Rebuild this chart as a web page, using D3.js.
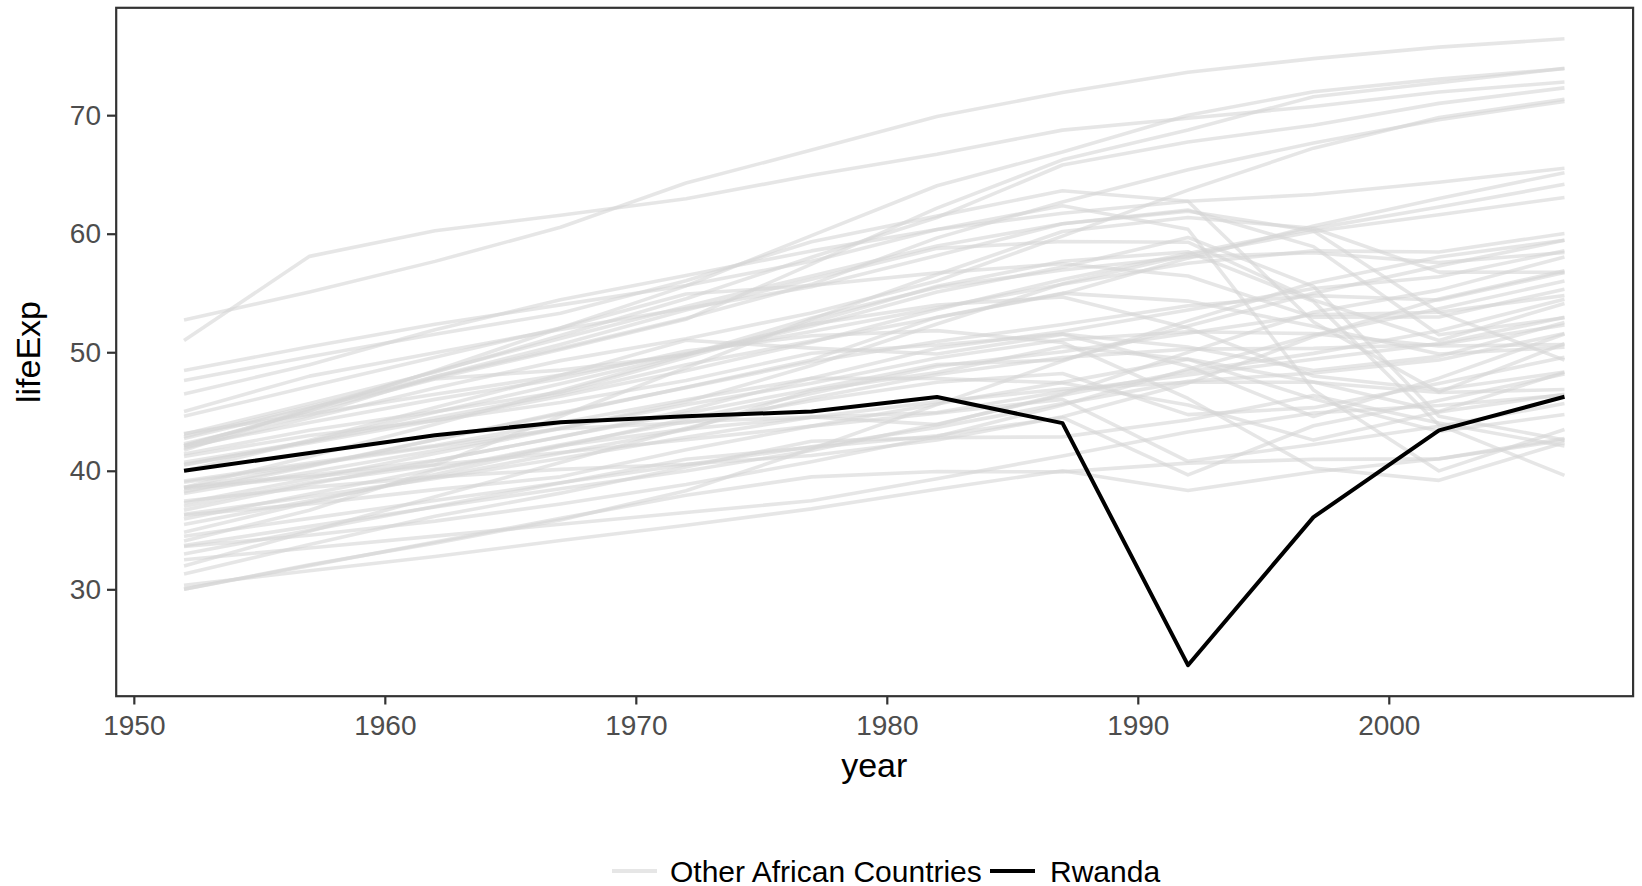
<!DOCTYPE html>
<html>
<head>
<meta charset="utf-8">
<script src="https://cdn.jsdelivr.net/npm/d3@7"></script>
<style>
  body { margin: 0; background: #fff; }
  text { font-family: "Liberation Sans", Arial, sans-serif; }
</style>
</head>
<body>
<script>
const years = [1952, 1957, 1962, 1967, 1972, 1977, 1982, 1987, 1992, 1997, 2002, 2007];

const countries = [
  "Algeria", "Angola", "Benin", "Botswana", "Burkina Faso", "Burundi", "Cameroon",
  "Central African Republic", "Chad", "Comoros", "Congo, Dem. Rep.", "Congo, Rep.",
  "Cote d'Ivoire", "Djibouti", "Egypt", "Equatorial Guinea", "Eritrea", "Ethiopia",
  "Gabon", "Gambia", "Ghana", "Guinea", "Guinea-Bissau", "Kenya", "Lesotho", "Liberia",
  "Libya", "Madagascar", "Malawi", "Mali", "Mauritania", "Mauritius", "Morocco",
  "Mozambique", "Namibia", "Niger", "Nigeria", "Reunion", "Rwanda",
  "Sao Tome and Principe", "Senegal", "Sierra Leone", "Somalia", "South Africa", "Sudan",
  "Swaziland", "Tanzania", "Togo", "Tunisia", "Uganda", "Zambia", "Zimbabwe"
];

const lifeExp = [
  [43.077, 45.685, 48.303, 51.407, 54.518, 58.014, 61.368, 65.799, 67.744, 69.152, 70.994, 72.301],
  [30.015, 31.999, 34.000, 35.985, 37.928, 39.483, 39.942, 39.906, 40.647, 40.963, 41.003, 42.731],
  [38.223, 40.358, 42.618, 44.885, 47.014, 49.190, 50.904, 52.337, 53.919, 54.777, 54.406, 56.728],
  [47.622, 49.618, 51.520, 53.298, 56.024, 59.319, 61.484, 63.622, 62.745, 52.556, 46.634, 50.728],
  [31.975, 34.906, 37.814, 40.697, 43.591, 46.137, 48.122, 49.557, 50.260, 50.324, 50.650, 52.295],
  [39.031, 40.533, 42.045, 43.548, 44.057, 45.910, 47.471, 48.211, 44.736, 45.326, 47.360, 49.580],
  [38.523, 40.428, 42.643, 44.799, 47.049, 49.355, 52.961, 54.985, 54.314, 52.199, 49.856, 50.430],
  [35.463, 37.464, 39.475, 41.478, 43.457, 46.775, 48.295, 50.485, 49.396, 46.066, 43.308, 44.741],
  [38.092, 39.881, 41.716, 43.601, 45.569, 47.383, 49.517, 51.051, 51.724, 51.573, 50.525, 50.651],
  [40.715, 42.460, 44.467, 46.472, 48.944, 50.939, 52.933, 54.926, 57.939, 60.660, 62.974, 65.152],
  [39.143, 40.652, 42.122, 44.056, 45.989, 47.804, 47.784, 47.412, 45.548, 42.587, 44.966, 46.462],
  [42.111, 45.053, 48.435, 52.040, 54.907, 55.625, 56.695, 57.470, 56.433, 52.962, 52.970, 55.322],
  [40.477, 42.469, 44.930, 47.350, 49.801, 52.374, 53.983, 54.655, 52.044, 47.991, 46.832, 48.328],
  [34.812, 37.328, 39.693, 42.074, 44.366, 46.519, 48.812, 50.040, 51.604, 53.157, 53.373, 54.791],
  [41.893, 44.444, 46.992, 49.293, 51.137, 53.319, 56.006, 59.797, 63.674, 67.217, 69.806, 71.338],
  [34.482, 35.983, 37.485, 38.987, 40.516, 42.024, 43.662, 45.664, 47.545, 48.245, 49.348, 51.579],
  [35.928, 38.047, 40.158, 42.189, 44.142, 44.535, 43.890, 46.453, 49.991, 53.378, 55.240, 58.040],
  [34.078, 36.667, 40.059, 42.115, 43.515, 44.510, 44.916, 46.684, 48.091, 49.402, 50.725, 52.947],
  [37.003, 38.999, 40.489, 44.598, 48.690, 52.790, 56.564, 60.190, 61.366, 60.461, 56.761, 56.735],
  [30.000, 32.065, 33.896, 35.857, 38.308, 41.842, 45.580, 49.265, 52.644, 55.861, 58.041, 59.448],
  [43.149, 44.779, 46.452, 48.072, 49.875, 51.756, 53.744, 55.729, 57.501, 58.556, 58.453, 60.022],
  [33.609, 34.558, 35.753, 37.197, 38.842, 40.762, 42.891, 45.552, 48.576, 51.455, 53.676, 56.007],
  [32.500, 33.489, 34.488, 35.492, 36.486, 37.465, 39.327, 41.245, 43.266, 44.873, 45.504, 46.388],
  [42.270, 44.686, 47.949, 50.654, 53.559, 56.155, 58.766, 59.339, 59.285, 54.407, 50.992, 54.110],
  [42.138, 45.047, 47.747, 48.492, 49.767, 52.208, 55.078, 57.180, 59.685, 55.558, 44.593, 42.592],
  [38.480, 39.486, 40.502, 41.536, 42.614, 43.764, 44.852, 46.027, 40.802, 42.221, 43.753, 45.678],
  [42.723, 45.289, 47.808, 50.227, 52.773, 57.442, 62.155, 66.234, 68.755, 71.555, 72.737, 73.952],
  [36.681, 38.865, 40.848, 42.881, 44.851, 46.881, 48.969, 49.350, 52.214, 54.978, 57.286, 59.443],
  [36.256, 37.207, 38.410, 39.487, 41.766, 43.767, 45.642, 47.457, 49.420, 47.495, 45.009, 48.303],
  [33.685, 35.307, 36.936, 38.487, 39.977, 41.714, 43.916, 46.364, 48.388, 49.903, 51.818, 54.467],
  [40.543, 42.338, 44.248, 46.289, 48.437, 50.852, 53.599, 56.145, 58.333, 60.430, 62.247, 64.164],
  [50.986, 58.089, 60.246, 61.557, 62.944, 64.930, 66.711, 68.740, 69.745, 70.736, 71.954, 72.801],
  [42.873, 45.423, 47.924, 50.335, 52.862, 55.730, 59.650, 62.677, 65.393, 67.660, 69.615, 71.164],
  [31.286, 33.779, 36.161, 38.113, 40.328, 42.495, 42.795, 42.861, 44.284, 46.344, 44.026, 42.082],
  [41.725, 45.226, 48.386, 51.159, 53.867, 56.437, 58.968, 60.835, 61.999, 58.909, 51.479, 52.906],
  [37.444, 38.598, 39.487, 40.118, 40.546, 41.291, 42.598, 44.555, 47.391, 51.313, 54.496, 56.867],
  [36.324, 37.802, 39.360, 41.040, 42.821, 44.514, 45.826, 46.886, 47.472, 47.464, 46.608, 46.859],
  [52.724, 55.090, 57.666, 60.542, 64.274, 67.064, 69.885, 71.913, 73.615, 74.772, 75.744, 76.442],
  [40.000, 41.500, 43.000, 44.100, 44.600, 45.000, 46.218, 44.020, 23.599, 36.087, 43.413, 46.242],
  [46.471, 48.945, 51.893, 54.425, 56.480, 58.550, 60.351, 61.728, 62.742, 63.306, 64.337, 65.528],
  [37.278, 39.329, 41.454, 43.563, 45.815, 48.879, 52.379, 55.769, 58.196, 60.187, 61.600, 63.062],
  [30.331, 31.570, 32.767, 34.113, 35.400, 36.788, 38.445, 40.006, 38.333, 39.897, 41.012, 42.568],
  [32.978, 34.977, 36.981, 38.977, 40.973, 41.974, 42.955, 44.501, 39.658, 43.795, 45.936, 48.159],
  [45.009, 47.985, 49.951, 51.927, 53.696, 55.527, 58.161, 60.834, 61.888, 60.236, 53.365, 49.339],
  [38.635, 39.624, 40.870, 42.858, 45.083, 47.800, 50.338, 51.744, 53.556, 55.373, 56.369, 58.556],
  [41.407, 43.424, 44.992, 46.633, 49.552, 52.537, 55.561, 57.678, 58.474, 54.289, 43.869, 39.613],
  [41.215, 42.974, 44.246, 45.757, 47.620, 49.919, 50.608, 51.535, 50.440, 48.466, 49.651, 52.517],
  [38.596, 41.208, 43.922, 46.769, 49.759, 52.887, 55.471, 56.941, 58.061, 58.390, 57.561, 58.420],
  [44.600, 47.100, 49.579, 52.053, 55.602, 59.837, 64.048, 66.894, 70.001, 71.973, 73.042, 73.923],
  [39.978, 42.571, 45.344, 48.051, 51.016, 50.350, 49.849, 51.509, 48.825, 44.578, 47.813, 51.542],
  [42.038, 44.077, 46.023, 47.768, 50.107, 51.386, 51.821, 50.821, 46.100, 40.238, 39.193, 42.384],
  [48.451, 50.469, 52.358, 53.995, 55.635, 57.674, 60.363, 62.351, 60.377, 46.809, 39.989, 43.487]
];

const highlight = "Rwanda";
const legendLabels = ["Other African Countries", "Rwanda"];
const xTicks = [1950, 1960, 1970, 1980, 1990, 2000];
const yTicks = [30, 40, 50, 60, 70];

const width = 1642, height = 886;
const panel = { left: 115, right: 1633.5, top: 7.5, bottom: 696.5 };
const greyCol = "#d6d6d6", hiCol = "#000000";

const series = countries.map((c, i) => ({
  country: c,
  points: years.map((y, j) => ({ year: y, value: lifeExp[i][j] }))
}));

// ggplot-style 5% expansion
function expand([a, b]) { const d = (b - a) * 0.05; return [a - d, b + d]; }
const allVals = lifeExp.flat();
const x = d3.scaleLinear().domain(expand(d3.extent(years))).range([panel.left, panel.right]);
const y = d3.scaleLinear().domain(expand(d3.extent(allVals))).range([panel.bottom, panel.top]);

const svg = d3.select("body").append("svg")
  .attr("width", width).attr("height", height);

const line = d3.line().x(d => x(d.year)).y(d => y(d.value));

// other countries first, highlight on top
svg.append("g")
  .selectAll("path")
  .data(series.filter(s => s.country !== highlight))
  .join("path")
  .attr("d", d => line(d.points))
  .attr("fill", "none")
  .attr("stroke", greyCol)
  .attr("stroke-opacity", 0.6)
  .attr("stroke-width", 3.6)
  .attr("stroke-linejoin", "round");

svg.append("g")
  .selectAll("path")
  .data(series.filter(s => s.country === highlight))
  .join("path")
  .attr("d", d => line(d.points))
  .attr("fill", "none")
  .attr("stroke", hiCol)
  .attr("stroke-width", 4)
  .attr("stroke-linejoin", "round");

// panel border
svg.append("rect")
  .attr("x", panel.left + 1.2).attr("y", panel.top + 0.3)
  .attr("width", panel.right - panel.left - 1.6)
  .attr("height", panel.bottom - panel.top - 0.6)
  .attr("fill", "none").attr("stroke", "#333333").attr("stroke-width", 2.2);

// axes
const xAxis = svg.append("g")
  .attr("transform", `translate(0,${panel.bottom})`)
  .call(d3.axisBottom(x).tickValues(xTicks).tickFormat(d3.format("d")).tickSize(8).tickPadding(4));
const yAxis = svg.append("g")
  .attr("transform", `translate(${panel.left + 1},0)`)
  .call(d3.axisLeft(y).tickValues(yTicks).tickSize(9).tickPadding(6));

[xAxis, yAxis].forEach(g => {
  g.select(".domain").remove();
  g.selectAll(".tick line").attr("stroke", "#333333").attr("stroke-width", 2.2);
  g.selectAll(".tick text").attr("fill", "#4d4d4d").style("font-size", "28px");
});
xAxis.selectAll(".tick text").attr("dy", "0.95em");

// axis titles
svg.append("text")
  .attr("x", (panel.left + panel.right) / 2).attr("y", 777)
  .attr("text-anchor", "middle").style("font-size", "34px").attr("fill", "#000")
  .text("year");
svg.append("text")
  .attr("transform", `translate(40,${(panel.top + panel.bottom) / 2}) rotate(-90)`)
  .attr("text-anchor", "middle").style("font-size", "34px").attr("fill", "#000")
  .text("lifeExp");

// legend
const legend = svg.append("g").attr("transform", "translate(0,871)");
const legendItems = [
  { label: legendLabels[0], color: greyCol, opacity: 0.6, x0: 612, tx: 670 },
  { label: legendLabels[1], color: hiCol, opacity: 1, x0: 990, tx: 1050 }
];
legendItems.forEach(it => {
  legend.append("line")
    .attr("x1", it.x0).attr("x2", it.x0 + 45).attr("y1", 0).attr("y2", 0)
    .attr("stroke", it.color).attr("stroke-opacity", it.opacity).attr("stroke-width", 4);
  legend.append("text")
    .attr("x", it.tx).attr("y", 10.5)
    .style("font-size", "30px").attr("fill", "#000")
    .text(it.label);
});
</script>
</body>
</html>
